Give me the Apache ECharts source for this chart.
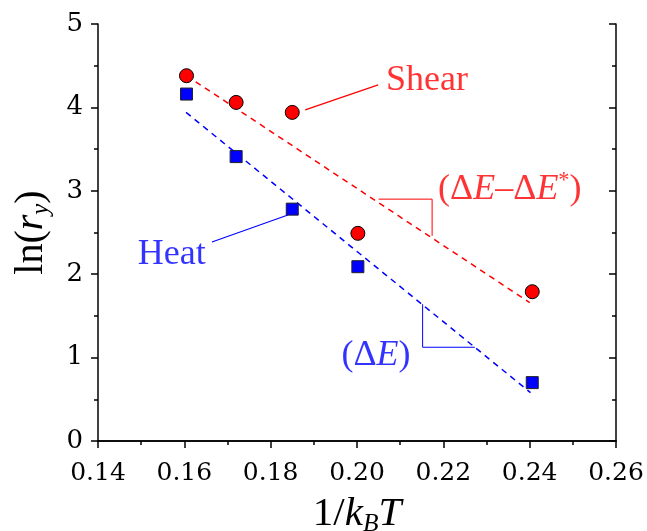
<!DOCTYPE html>
<html>
<head>
<meta charset="utf-8">
<script src="https://cdn.jsdelivr.net/npm/echarts@6/dist/echarts.min.js"></script>
<style>
  html, body { margin: 0; padding: 0; background: #fff; }
  #chart { width: 647px; height: 531px; }
</style>
</head>
<body>
<div id="chart"></div>
<script>
const invKT = [0.1605, 0.172, 0.185, 0.2002, 0.2406]
const shearVals = [4.38, 4.06, 3.94, 2.49, 1.79]
const heatVals = [4.16, 3.41, 2.78, 2.09, 0.70]

// linear fits (end points)
const shearFit = [[0.1605, 4.38], [0.2400, 1.66]]
const heatFit = [[0.1604, 3.94], [0.2402, 0.58]]

// slope triangles
const shearTri = [[0.2050, 2.90], [0.2174, 2.90], [0.2174, 2.46]]
const heatTri = [[0.2152, 1.64], [0.2152, 1.124], [0.2273, 1.124]]

// arrows: [from, to]
const shearArrow = [[0.2049, 4.27], [0.1880, 3.97]]
const heatArrow = [[0.1664, 2.386], [0.1840, 2.71]]

// label anchors
const shearLabelAt = [0.2162, 4.32]
const heatLabelAt = [0.1571, 2.24]
const shearSlopeAt = [0.2354, 3.02]
const heatSlopeAt = [0.2044, 1.02]

const xTicks = { min: 0.14, max: 0.26, interval: 0.02 }
const yTicks = { min: 0, max: 5, interval: 1 }

const RED = '#ff0000'
const BLUE = '#0000ff'
const FONT = 'Liberation Serif'
const TICKFONT = 'DejaVu Serif'

function zip(xs, ys) {
  return xs.map((x, i) => [x, ys[i]])
}

function textStyles(color, size) {
  return {
    n: { fontFamily: FONT, fontSize: size, color: color },
    i: { fontFamily: FONT, fontSize: size, color: color, fontStyle: 'italic' },
    sub: { fontFamily: FONT, fontSize: size * 0.62, color: color, fontStyle: 'italic', padding: [size * 0.5, 0, 0, 0] },
    sup: { fontFamily: FONT, fontSize: size * 0.62, color: color, padding: [0, 0, size * 0.45, 0] }
  }
}

function labelSeries(at, fmt, color) {
  return {
    type: 'scatter',
    symbolSize: 0,
    silent: true,
    data: [at],
    label: {
      show: true,
      position: 'inside',
      formatter: fmt,
      rich: textStyles(color, 36)
    },
    z: 5
  }
}

const axisLine = { show: true, lineStyle: { color: '#000', width: 1.5 } }
const tickStyle = { color: '#000', width: 1.5 }

let chart = echarts.init(document.getElementById('chart'))
chart.setOption({
  animation: false,
  grid: { left: 98, right: 31, top: 24, bottom: 90, containLabel: false, outerBoundsMode: 'none' },
  xAxis: [
    {
      type: 'value',
      position: 'bottom',
      min: xTicks.min,
      max: xTicks.max,
      interval: xTicks.interval,
      axisLine: axisLine,
      axisTick: { show: true, inside: false, length: 7, lineStyle: tickStyle },
      minorTick: { show: true, splitNumber: 2, length: 4, lineStyle: tickStyle },
      splitLine: { show: false },
      axisLabel: {
        fontFamily: TICKFONT, fontSize: 25, color: '#000', margin: 20,
        formatter: v => v.toFixed(2)
      },
      name: '{n|1/}{i|k}{sub|B}{i|T}',
      nameLocation: 'middle',
      nameGap: 50,
      nameTextStyle: { rich: textStyles('#000', 41) }
    },
    {
      type: 'value',
      position: 'top',
      min: xTicks.min,
      max: xTicks.max,
      interval: xTicks.interval,
      axisLine: axisLine,
      axisTick: { show: true, inside: true, length: 7, lineStyle: tickStyle },
      minorTick: { show: true, splitNumber: 2, length: 4, lineStyle: tickStyle },
      splitLine: { show: false },
      axisLabel: { show: false }
    }
  ],
  yAxis: [
    {
      type: 'value',
      position: 'left',
      min: yTicks.min,
      max: yTicks.max,
      interval: yTicks.interval,
      axisLine: axisLine,
      axisTick: { show: true, inside: false, length: 7, lineStyle: tickStyle },
      minorTick: { show: true, splitNumber: 2, length: 4, lineStyle: tickStyle },
      splitLine: { show: false },
      axisLabel: { fontFamily: TICKFONT, fontSize: 26, color: '#000', margin: 15 },
      name: '{n|ln(}{i|r}{sub|y}{n|)}',
      nameLocation: 'middle',
      nameRotate: 90,
      nameGap: 44,
      nameTextStyle: { rich: textStyles('#000', 40) }
    },
    {
      type: 'value',
      position: 'right',
      min: yTicks.min,
      max: yTicks.max,
      interval: yTicks.interval,
      axisLine: axisLine,
      axisTick: { show: true, inside: true, length: 7, lineStyle: tickStyle },
      minorTick: { show: true, splitNumber: 2, length: 4, lineStyle: tickStyle },
      splitLine: { show: false },
      axisLabel: { show: false }
    }
  ],
  series: [
    {
      name: 'Shear fit', type: 'line', data: shearFit, symbol: 'none', silent: true,
      lineStyle: { color: RED, width: 1.5, type: [6, 5] }
    },
    {
      name: 'Heat fit', type: 'line', data: heatFit, symbol: 'none', silent: true,
      lineStyle: { color: BLUE, width: 1.5, type: [6, 5] }
    },
    {
      name: 'Shear slope', type: 'line', data: shearTri, symbol: 'none', silent: true,
      lineStyle: { color: RED, width: 1 }
    },
    {
      name: 'Heat slope', type: 'line', data: heatTri, symbol: 'none', silent: true,
      lineStyle: { color: BLUE, width: 1 }
    },
    {
      name: 'arrows', type: 'line', data: [], silent: true,
      markLine: {
        silent: true,
        symbol: ['none', 'arrow'],
        symbolSize: [0, 10],
        label: { show: false },
        data: [
          [{ coord: shearArrow[0], lineStyle: { color: RED, width: 1.2, type: 'solid' } }, { coord: shearArrow[1] }],
          [{ coord: heatArrow[0], lineStyle: { color: BLUE, width: 1.2, type: 'solid' } }, { coord: heatArrow[1] }]
        ]
      }
    },
    {
      name: 'Shear', type: 'scatter', data: zip(invKT, shearVals),
      symbol: 'circle', symbolSize: 14,
      itemStyle: { color: RED, borderColor: '#000', borderWidth: 1, opacity: 1 }, z: 4
    },
    {
      name: 'Heat', type: 'scatter', data: zip(invKT, heatVals),
      symbol: 'rect', symbolSize: 12,
      itemStyle: { color: BLUE, borderColor: '#222', borderWidth: 1, opacity: 1 }, z: 4
    },
    labelSeries(shearLabelAt, '{n|Shear}', RED),
    labelSeries(heatLabelAt, '{n|Heat}', BLUE),
    labelSeries(shearSlopeAt, '{n|(Δ}{i|E}{n|–Δ}{i|E}{sup|*}{n|)}', RED),
    labelSeries(heatSlopeAt, '{n|(Δ}{i|E}{n|)}', BLUE)
  ]
})
</script>
</body>
</html>
